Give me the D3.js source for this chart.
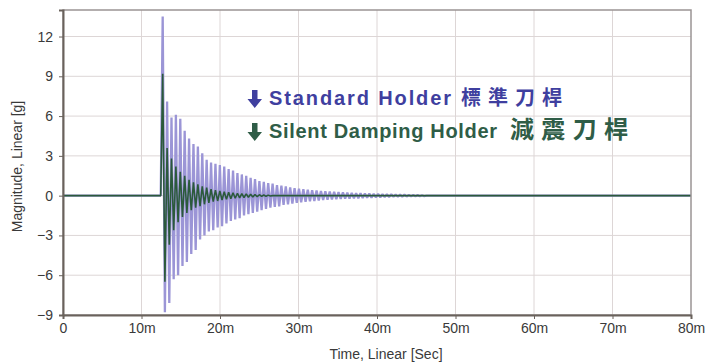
<!DOCTYPE html>
<html>
<head>
<meta charset="utf-8">
<script src="https://cdn.jsdelivr.net/npm/d3@7"></script>
<style>
  html, body { margin: 0; padding: 0; background: #fff; }
  svg { display: block; font-family: 'Liberation Sans', Arial, sans-serif; }
</style>
</head>
<body>
<div id="chart"></div>
<script>
// axis ticks
const xTicks = [0, 10, 20, 30, 40, 50, 60, 70, 80];
const xTickLabels = ['0', '10m', '20m', '30m', '40m', '50m', '60m', '70m', '80m'];
const yTicks = [-9, -6, -3, 0, 3, 6, 9, 12];

const sampleStart = 12.7;
const sampleStep = 0.28;

// Standard Holder 標準刀桿, successive extrema [g]
const standardPeaks = [
  13.5, -8.8, 7.1, -8.1, 5.9, -6.3, 6.1, -6.0, 5.8, -5.3,
  4.9, -5.0, 4.3, -4.4, 3.9, -4.1, 3.7, -3.3, 3.2, -3.0,
  2.7, -2.7, 2.5, -2.6, 2.4, -2.4, 2.3, -2.3, 2.2, -2.1,
  2.0, -1.9, 1.9, -1.8, 1.7, -1.7, 1.6, -1.5, 1.5, -1.4,
  1.35, -1.3, 1.25, -1.2, 1.1, -1.1, 1.05, -1.0, 0.95, -0.9,
  0.9, -0.85, 0.8, -0.8, 0.75, -0.7, 0.7, -0.65, 0.62, -0.6,
  0.57, -0.55, 0.52, -0.5, 0.48, -0.46, 0.45, -0.43, 0.41, -0.4,
  0.38, -0.36, 0.35, -0.33, 0.32, -0.31, 0.3, -0.29, 0.28, -0.27,
  0.26, -0.25, 0.24, -0.23, 0.22, -0.22, 0.21, -0.2, 0.19, -0.19,
  0.18, -0.17, 0.17, -0.16, 0.15, -0.15, 0.14, -0.13, 0.13, -0.12,
  0.12, -0.11, 0.11, -0.1, 0.1, -0.09, 0.09, -0.08, 0.08, -0.07,
  0.07, -0.06, 0.06, -0.05, 0.05, -0.05, 0.04, -0.04, 0.03, -0.03,
];

// Silent Damping Holder 減震刀桿, successive extrema [g]
const dampingPeaks = [
  9.2, -6.5, 3.6, -3.7, 2.8, -2.6, 2.2, -2.0, 1.8, -1.6,
  1.5, -1.3, 1.2, -1.1, 1.0, -0.9, 0.85, -0.8, 0.7, -0.65,
  0.6, -0.55, 0.5, -0.45, 0.42, -0.4, 0.36, -0.33, 0.3, -0.28,
  0.26, -0.24, 0.22, -0.2, 0.18, -0.17, 0.15, -0.14, 0.13, -0.12,
  0.11, -0.1, 0.09, -0.08, 0.07, -0.06, 0.05, -0.05, 0.04, -0.03,
];

const legendItems = [
  { latin: 'Standard Holder', cjk: '標準刀桿', color: '#3f3f9f', latinLen: 182, cjkLen: 101, cjkSize: 20, gap: 10 },
  { latin: 'Silent Damping Holder', cjk: '減震刀桿', color: '#2f5d47', latinLen: 228, cjkLen: 118, cjkSize: 24, gap: 13 },
];

const width = 712;
const height = 363;
const margin = { top: 10, right: 21, bottom: 48, left: 63 };

const svg = d3.select('#chart').append('svg')
  .attr('width', width)
  .attr('height', height);

const x = d3.scaleLinear().domain([0, 80]).range([margin.left, width - margin.right]);
const y = d3.scaleLinear().domain([-9, 14]).range([height - margin.bottom, margin.top]);

// grid
svg.append('g')
  .attr('stroke', '#ddd6d6')
  .attr('stroke-width', 1)
  .call((g) => g.selectAll('.gx')
    .data(xTicks.slice(1, -1))
    .join('line')
    .attr('x1', (d) => x(d)).attr('x2', (d) => x(d))
    .attr('y1', y.range()[1]).attr('y2', y.range()[0]))
  .call((g) => g.selectAll('.gy')
    .data(yTicks.slice(1))
    .join('line')
    .attr('x1', x.range()[0]).attr('x2', x.range()[1])
    .attr('y1', (d) => y(d)).attr('y2', (d) => y(d)));

// series
const toPoints = (peaks) => {
  const pts = [[0, 0], [sampleStart - 0.25, 0]];
  peaks.forEach((v, i) => pts.push([sampleStart + i * sampleStep, v]));
  pts.push([sampleStart + peaks.length * sampleStep, 0], [80, 0]);
  return pts;
};

const line = d3.line()
  .x((d) => x(d[0]))
  .y((d) => y(d[1]));

svg.append('path')
  .datum(toPoints(standardPeaks))
  .attr('fill', 'none')
  .attr('stroke', '#9b95d6')
  .attr('stroke-width', 2.3)
  .attr('stroke-linejoin', 'bevel')
  .attr('d', line);

svg.append('path')
  .datum(toPoints(dampingPeaks))
  .attr('fill', 'none')
  .attr('stroke', '#2b5a3b')
  .attr('stroke-width', 1.6)
  .attr('stroke-linejoin', 'bevel')
  .attr('d', line);

// frame
svg.append('rect')
  .attr('x', x.range()[0])
  .attr('y', y.range()[1])
  .attr('width', x.range()[1] - x.range()[0])
  .attr('height', y.range()[0] - y.range()[1])
  .attr('fill', 'none')
  .attr('stroke', '#9a9494')
  .attr('stroke-width', 1.5);

// axes
const xAxis = d3.axisBottom(x)
  .tickValues(xTicks)
  .tickFormat((d, i) => xTickLabels[i])
  .tickSize(4)
  .tickPadding(4);

const yAxis = d3.axisLeft(y)
  .tickValues(yTicks)
  .tickSize(4)
  .tickPadding(6);

const styleAxis = (g) => {
  g.select('.domain').attr('stroke', '#6a625c').attr('stroke-width', 2);
  g.selectAll('.tick line').attr('stroke', '#6a625c');
  g.selectAll('.tick text')
    .attr('fill', '#3a3a3a')
    .attr('font-size', 14)
    .attr('font-family', "'Liberation Sans', Arial, sans-serif");
};

svg.append('g')
  .attr('transform', `translate(0,${y.range()[0]})`)
  .call(xAxis)
  .call(styleAxis);

svg.append('g')
  .attr('transform', `translate(${x.range()[0]},0)`)
  .call(yAxis)
  .call(styleAxis);

// axis titles
svg.append('text')
  .attr('x', 386)
  .attr('y', 359)
  .attr('text-anchor', 'middle')
  .attr('font-size', 14)
  .attr('fill', '#3a3a3a')
  .text('Time, Linear [Sec]');

svg.append('text')
  .attr('transform', `translate(22,${(y.range()[0] + y.range()[1]) / 2 + 4}) rotate(-90)`)
  .attr('text-anchor', 'middle')
  .attr('font-size', 14)
  .attr('fill', '#3a3a3a')
  .text('Magnitude, Linear [g]');

// legend
const legend = svg.append('g')
  .attr('transform', 'translate(248,105)');

legendItems.forEach((item, i) => {
  const g = legend.append('g').attr('transform', `translate(0,${i * 33})`);

  // down arrow
  g.append('path')
    .attr('d', 'M4,-15 h5.5 v9 h4.5 l-7.25,9 l-7.25,-9 h4.5 z')
    .attr('fill', item.color);

  g.append('text')
    .attr('x', 21)
    .attr('fill', item.color)
    .attr('font-weight', 'bold')
    .attr('font-size', 20)
    .attr('textLength', item.latinLen)
    .attr('lengthAdjust', 'spacing')
    .text(item.latin);

  g.append('text')
    .attr('x', 21 + item.latinLen + item.gap)
    .attr('fill', item.color)
    .attr('font-weight', 'bold')
    .attr('font-size', item.cjkSize)
    .attr('font-family', "'Noto Sans CJK TC', sans-serif")
    .attr('textLength', item.cjkLen)
    .attr('lengthAdjust', 'spacing')
    .text(item.cjk);
});
</script>
</body>
</html>
